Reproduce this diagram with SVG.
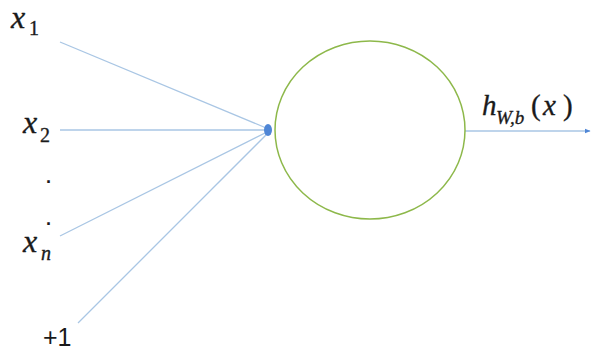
<svg xmlns="http://www.w3.org/2000/svg" width="592" height="351" viewBox="0 0 592 351">
<defs>
<style>
.ln{stroke:#a9c6e4;stroke-width:1.3;fill:none}
.m{font-family:"Liberation Serif","DejaVu Serif",serif;font-style:italic;fill:#1a1a1a;stroke:#1a1a1a;stroke-width:0.35}
.n{font-style:normal}
.s{font-family:"Liberation Sans","DejaVu Sans",sans-serif;fill:#1a1a1a}
</style>
<marker id="ah" viewBox="0 0 10 10" refX="9" refY="5" markerWidth="6" markerHeight="6" orient="auto" markerUnits="userSpaceOnUse">
<path d="M0,1 L10,5 L0,9 z" fill="#4f86d6"/>
</marker>
</defs>
<rect width="592" height="351" fill="#fff"/>
<g id="connectors">
<line class="ln" x1="60" y1="42" x2="271" y2="130"/>
<line class="ln" x1="60" y1="130" x2="271" y2="130"/>
<line class="ln" x1="60" y1="236" x2="271" y2="130"/>
<line class="ln" x1="78" y1="323" x2="271" y2="130"/>
<line class="ln" x1="465" y1="131" x2="590" y2="131" marker-end="url(#ah)"/>
<ellipse cx="268" cy="130" rx="4" ry="6" fill="#4f86d6"/>
</g>
<g id="neuron">
<ellipse cx="370" cy="130" rx="95" ry="89" fill="none" stroke="#8db84a" stroke-width="1.5"/>
</g>
<g id="x1"><text class="m" font-size="32"><tspan x="11" y="28">x</tspan><tspan class="n" x="29" y="35" font-size="20">1</tspan></text></g>
<g id="x2"><text class="m" font-size="32"><tspan x="23" y="133">x</tspan><tspan class="n" x="40" y="142" font-size="20">2</tspan></text></g>
<g id="dots"><text class="s" x="46" y="183" font-size="18" font-weight="bold">.</text><text class="s" x="46" y="225" font-size="18" font-weight="bold">.</text></g>
<g id="xn"><text class="m" font-size="32"><tspan x="23" y="252">x</tspan><tspan x="41" y="260" font-size="20">n</tspan></text></g>
<g id="plus1"><text class="s" x="43" y="346" font-size="25">+1</text></g>
<g id="output"><text class="m" font-size="29"><tspan x="482" y="115">h</tspan><tspan x="496" y="124" font-size="19">W,b</tspan><tspan class="n" x="531" y="115">(</tspan><tspan x="543" y="115">x</tspan><tspan class="n" x="563" y="115">)</tspan></text></g>
</svg>
